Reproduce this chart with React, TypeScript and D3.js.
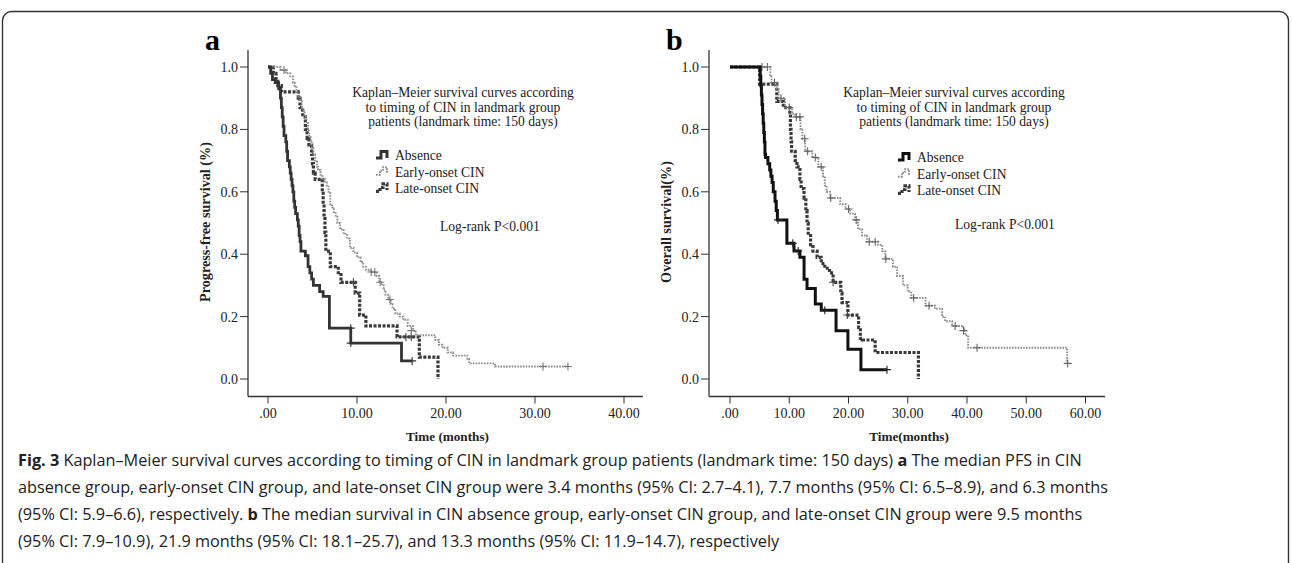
import React from 'react';
import * as d3 from 'd3';

type Pt = [number, number];

// ---- panel a: progression-free survival (months, proportion) ----
const pfsAbsence: Pt[] = [
  [0, 1], [0.3, 0.98], [0.5, 0.96], [0.8, 0.95], [1.2, 0.93], [1.4, 0.9], [1.5, 0.87], [1.6, 0.84],
  [1.7, 0.81], [1.8, 0.78], [2.0, 0.76], [2.1, 0.73], [2.2, 0.7], [2.4, 0.68], [2.5, 0.66], [2.6, 0.64],
  [2.7, 0.62], [2.8, 0.6], [2.9, 0.57], [3.0, 0.55], [3.1, 0.53], [3.3, 0.51], [3.4, 0.49], [3.5, 0.46],
  [3.6, 0.44], [3.7, 0.41], [4.2, 0.395], [4.5, 0.36], [4.7, 0.34], [4.9, 0.32], [5.1, 0.3], [5.8, 0.28],
  [6.2, 0.265], [6.9, 0.163], [9.3, 0.115], [15.0, 0.058], [16.2, 0.058],
];
const pfsAbsenceCensor: Pt[] = [[9.3, 0.163], [9.3, 0.115], [16.2, 0.058]];

const pfsEarly: Pt[] = [
  [0, 1], [1.4, 0.99], [2.0, 0.98], [2.5, 0.97], [2.8, 0.95], [3.0, 0.935], [3.2, 0.92], [3.4, 0.905],
  [3.6, 0.89], [3.8, 0.87], [3.9, 0.86], [4.1, 0.84], [4.3, 0.82], [4.5, 0.8], [4.6, 0.78], [4.8, 0.76],
  [4.9, 0.74], [5.1, 0.72], [5.3, 0.7], [5.5, 0.68], [5.6, 0.67], [5.9, 0.655], [6.1, 0.64], [6.4, 0.63],
  [6.6, 0.62], [6.8, 0.6], [7.0, 0.56], [7.2, 0.55], [7.4, 0.535], [7.6, 0.52], [7.8, 0.5], [8.1, 0.48],
  [8.5, 0.465], [8.9, 0.45], [9.2, 0.42], [9.6, 0.405], [10.0, 0.39], [10.4, 0.375], [10.7, 0.36],
  [11.0, 0.35], [11.5, 0.343], [12.2, 0.33], [12.5, 0.31], [12.8, 0.3], [13.0, 0.285], [13.2, 0.27],
  [13.5, 0.255], [13.8, 0.24], [14.0, 0.225], [14.3, 0.21], [14.8, 0.2], [15.2, 0.19], [15.7, 0.17],
  [16.3, 0.155], [16.6, 0.14], [18.8, 0.125], [19.2, 0.11], [19.6, 0.1], [20.2, 0.085], [20.8, 0.075],
  [22.4, 0.065], [22.6, 0.05], [25.5, 0.04], [33.7, 0.04],
];
const pfsEarlyCensor: Pt[] = [
  [1.8, 0.99], [11.6, 0.343], [12.0, 0.343], [12.6, 0.31], [13.7, 0.255], [16.1, 0.155], [30.9, 0.04], [33.7, 0.04],
];

const pfsLate: Pt[] = [
  [0, 1], [0.6, 0.98], [0.9, 0.96], [1.1, 0.94], [1.5, 0.92], [3.4, 0.9], [3.6, 0.87], [3.9, 0.84],
  [4.2, 0.8], [4.4, 0.77], [4.6, 0.75], [4.9, 0.72], [5.0, 0.69], [5.1, 0.66], [5.3, 0.64], [6.1, 0.6],
  [6.2, 0.56], [6.3, 0.52], [6.4, 0.47], [6.5, 0.41], [7.0, 0.36], [7.9, 0.335], [8.2, 0.31],
  [9.8, 0.275], [10.3, 0.205], [11.0, 0.17], [14.5, 0.135], [17.0, 0.07], [19.1, 0.0],
];
const pfsLateCensor: Pt[] = [[9.6, 0.31], [15.5, 0.135], [16.1, 0.135]];

// ---- panel b: overall survival ----
const osAbsence: Pt[] = [
  [0, 1], [5.1, 0.97], [5.2, 0.94], [5.3, 0.91], [5.4, 0.88], [5.5, 0.85], [5.6, 0.82], [5.7, 0.79],
  [5.8, 0.76], [5.9, 0.72], [6.0, 0.71], [6.4, 0.69], [6.7, 0.67], [6.9, 0.65], [7.1, 0.63], [7.3, 0.6],
  [7.6, 0.57], [7.8, 0.54], [8.0, 0.51], [9.6, 0.435], [10.8, 0.41], [11.8, 0.39], [12.5, 0.32],
  [13.0, 0.29], [14.4, 0.24], [15.4, 0.22], [17.9, 0.155], [19.9, 0.095], [22.1, 0.03], [26.5, 0.03],
];
const osAbsenceCensor: Pt[] = [[8.1, 0.51], [10.6, 0.435], [11.5, 0.41], [16.0, 0.22], [26.5, 0.03]];

const osEarly: Pt[] = [
  [0, 1], [6.8, 0.97], [7.0, 0.95], [7.9, 0.93], [8.2, 0.9], [9.3, 0.87], [10.5, 0.85], [11.0, 0.84],
  [11.9, 0.8], [12.2, 0.77], [12.7, 0.73], [13.9, 0.71], [14.9, 0.68], [15.7, 0.65], [16.0, 0.62],
  [16.3, 0.6], [16.9, 0.58], [18.6, 0.56], [19.5, 0.545], [20.3, 0.53], [21.1, 0.51], [21.6, 0.48],
  [22.3, 0.46], [23.1, 0.44], [25.0, 0.43], [25.7, 0.41], [26.2, 0.385], [27.5, 0.36], [28.2, 0.33],
  [29.2, 0.3], [30.0, 0.28], [30.6, 0.26], [33.0, 0.235], [34.6, 0.225], [35.8, 0.2], [36.3, 0.185],
  [37.5, 0.17], [39.4, 0.16], [39.7, 0.14], [40.2, 0.1], [56.9, 0.05], [57.0, 0.05],
];
const osEarlyCensor: Pt[] = [
  [5.4, 1.0], [6.3, 1.0], [7.5, 0.95], [8.6, 0.9], [10.0, 0.87], [11.2, 0.84], [11.8, 0.84], [12.6, 0.77],
  [13.1, 0.73], [14.4, 0.71], [15.4, 0.68], [17.0, 0.58], [20.0, 0.545], [21.3, 0.51], [23.5, 0.44],
  [24.5, 0.44], [26.3, 0.385], [31.0, 0.26], [33.6, 0.235], [38.0, 0.17], [39.4, 0.155], [41.7, 0.1], [57.0, 0.05],
];

const osLate: Pt[] = [
  [0, 1], [5.0, 0.945], [7.9, 0.89], [9.0, 0.87], [10.1, 0.85], [10.2, 0.8], [10.3, 0.76], [10.4, 0.73],
  [11.0, 0.7], [11.3, 0.68], [11.8, 0.64], [12.0, 0.61], [12.5, 0.58], [12.8, 0.54], [13.0, 0.5],
  [13.2, 0.46], [13.6, 0.43], [14.0, 0.41], [14.7, 0.39], [15.4, 0.37], [16.0, 0.355], [16.8, 0.34],
  [17.4, 0.31], [18.7, 0.275], [18.9, 0.245], [19.9, 0.205], [21.7, 0.165], [22.0, 0.13], [22.3, 0.125],
  [24.5, 0.085], [31.8, 0.0],
];
const osLateCensor: Pt[] = [[17.4, 0.31], [19.8, 0.205]];

const survTicks = [0, 0.2, 0.4, 0.6, 0.8, 1.0];
const pfsTimeTicks = [0, 10, 20, 30, 40];
const osTimeTicks = [0, 10, 20, 30, 40, 50, 60];
const groupNames = ['Absence', 'Early-onset CIN', 'Late-onset CIN'];
const noteLines = [
  'Kaplan–Meier survival curves according',
  'to timing of CIN in landmark group',
  'patients (landmark time: 150 days)',
];
const logRank = 'Log-rank P<0.001';

const captionLines: (string | { b: string })[][] = [
  [{ b: 'Fig. 3' }, ' Kaplan–Meier survival curves according to timing of CIN in landmark group patients (landmark time: 150 days) ', { b: 'a' }, ' The median PFS in CIN'],
  ['absence group, early-onset CIN group, and late-onset CIN group were 3.4 months (95% CI: 2.7–4.1), 7.7 months (95% CI: 6.5–8.9), and 6.3 months'],
  ['(95% CI: 5.9–6.6), respectively. ', { b: 'b' }, ' The median survival in CIN absence group, early-onset CIN group, and late-onset CIN group were 9.5 months'],
  ['(95% CI: 7.9–10.9), 21.9 months (95% CI: 18.1–25.7), and 13.3 months (95% CI: 11.9–14.7), respectively'],
];

const SERIF = '"Liberation Serif", "Times New Roman", serif';

type Style = { stroke: string; width: number; dash?: string; mark: string };

const Panel = ({ letter, left, right, x0, xMax, xEnd, ticks, yLabel, xLabel, curves, styles, legendX, legendY, noteX, logX, logY }: any) => {
  const x = d3.scaleLinear().domain([0, xMax]).range([x0, xEnd]);
  const y = d3.scaleLinear().domain([0, 1]).range([379, 67]);
  const axisY = 396.5;
  const line = d3.line<Pt>().x(d => x(d[0])).y(d => y(d[1])).curve(d3.curveStepAfter);
  const fmt = (v: number) => (v === 0 ? '.00' : v.toFixed(2));
  return (
    <g>
      <text x={left - 43} y={50} fontFamily={SERIF} fontWeight="bold" fontSize={30}>{letter}</text>
      <line x1={left} x2={left} y1={50} y2={axisY} stroke="#333" strokeWidth={1.3} />
      <line x1={left} x2={right} y1={axisY} y2={axisY} stroke="#333" strokeWidth={1.3} />
      {survTicks.map(t => (
        <g key={t}>
          <line x1={left - 8} x2={left} y1={y(t)} y2={y(t)} stroke="#333" strokeWidth={1} />
          <text x={left - 10} y={y(t)} dy="0.35em" textAnchor="end" fontFamily={SERIF} fontSize={14} fill="#222">{t.toFixed(1)}</text>
        </g>
      ))}
      {ticks.map((t: number) => (
        <g key={t}>
          <line x1={x(t)} x2={x(t)} y1={axisY} y2={axisY + 7} stroke="#333" strokeWidth={1} />
          <text x={x(t)} y={418} textAnchor="middle" fontFamily={SERIF} fontSize={14} fill="#222">{fmt(t)}</text>
        </g>
      ))}
      <text transform={`translate(${left - 38},222) rotate(-90)`} textAnchor="middle" fontFamily={SERIF} fontWeight="bold" fontSize={14.2} fill="#222">{yLabel}</text>
      <text x={(left + right) / 2 + 2} y={441} textAnchor="middle" fontFamily={SERIF} fontWeight="bold" fontSize={13.2} fill="#222">{xLabel}</text>
      {curves.map((c: { path: Pt[]; censor: Pt[] }, i: number) => {
        const s: Style = styles[i];
        return (
          <g key={i}>
            <path d={line(c.path) || ''} fill="none" stroke={s.stroke} strokeWidth={s.width} strokeDasharray={s.dash} />
            {c.censor.map((p, j) => (
              <path key={j} d={`M${x(p[0]) - 4},${y(p[1])}h8M${x(p[0])},${y(p[1]) - 4}v8`} stroke={s.mark} strokeWidth={1.1} />
            ))}
          </g>
        );
      }).reverse()}
      {noteLines.map((l, i) => (
        <text key={i} x={noteX} y={97 + i * 14.5} textAnchor="middle" fontFamily={SERIF} fontSize={13.6} fill="#222">{l}</text>
      ))}
      {groupNames.map((g, i) => {
        const s: Style = styles[i];
        const ly = legendY + i * 16.7;
        const icon = i === 0 ? `M${legendX},${ly - 2} h5 v-6.5 h6 v6.5` : `M${legendX},${ly - 2} h4 v-4 h3 v-3.5 h4 v6`;
        return (
          <g key={g}>
            <path d={icon} fill="none" stroke={s.stroke} strokeWidth={i === 0 ? 3 : s.width} strokeDasharray={s.dash} />
            <text x={legendX + 19} y={ly} fontFamily={SERIF} fontSize={13.6} fill="#222">{g}</text>
          </g>
        );
      })}
      <text x={logX} y={logY} fontFamily={SERIF} fontSize={13.6} fill="#222">{logRank}</text>
    </g>
  );
};

export default function App() {
  const stylesA: Style[] = [
    { stroke: '#333', width: 2.8, mark: '#333' },
    { stroke: '#8c8c8c', width: 1.9, dash: '1.6,1.2', mark: '#777' },
    { stroke: '#3a3a3a', width: 3.2, dash: '3,1.5', mark: '#444' },
  ];
  const stylesB: Style[] = [
    { stroke: '#111', width: 3, mark: '#222' },
    { stroke: '#8c8c8c', width: 1.9, dash: '1.6,1.2', mark: '#666' },
    { stroke: '#3a3a3a', width: 3.2, dash: '3,1.5', mark: '#444' },
  ];
  return (
    <div style={{ position: 'absolute', left: 0, top: 0 }}>
      <svg width={1292} height={563} style={{ display: 'block', background: '#fff' }}>
        <rect x={2.5} y={11.5} width={1286} height={620} rx={9} fill="#fff" stroke="#333" strokeWidth={1.4} />
        <Panel
          letter="a" left={248} right={643} x0={268} xMax={40} xEnd={624} ticks={pfsTimeTicks}
          yLabel="Progress-free survival (%)" xLabel="Time (months)"
          curves={[
            { path: pfsAbsence, censor: pfsAbsenceCensor },
            { path: pfsEarly, censor: pfsEarlyCensor },
            { path: pfsLate, censor: pfsLateCensor },
          ]}
          styles={stylesA} legendX={376} legendY={160} noteX={463} logX={440} logY={231}
        />
        <Panel
          letter="b" left={709} right={1105} x0={730} xMax={60} xEnd={1085.5} ticks={osTimeTicks}
          yLabel="Overall survival(%)" xLabel="Time(months)"
          curves={[
            { path: osAbsence, censor: osAbsenceCensor },
            { path: osEarly, censor: osEarlyCensor },
            { path: osLate, censor: osLateCensor },
          ]}
          styles={stylesB} legendX={898} legendY={162} noteX={954} logX={955} logY={229}
        />
        {captionLines.map((parts, i) => (
          <text key={i} x={18} y={466 + i * 27} fontFamily='"Open Sans", "Noto Sans", sans-serif' fontSize={16.25} fill="#222">
            {parts.map((p, j) => (typeof p === 'string' ? <tspan key={j}>{p}</tspan> : <tspan key={j} fontWeight="bold">{p.b}</tspan>))}
          </text>
        ))}
      </svg>
    </div>
  );
}
